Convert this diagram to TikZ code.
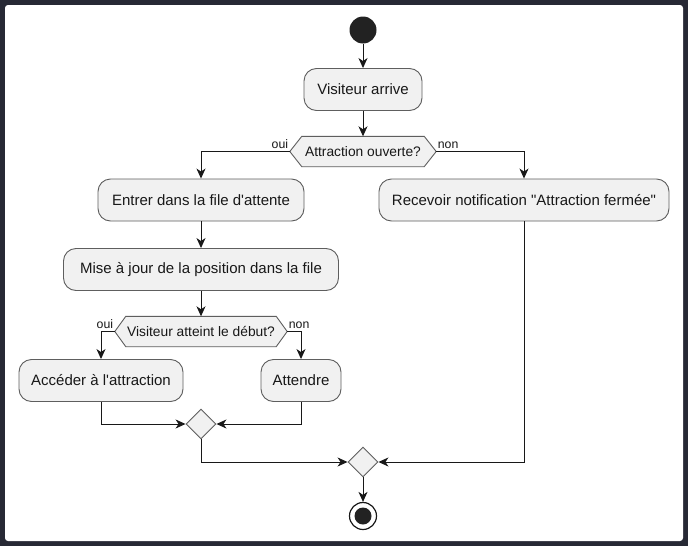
\documentclass[tikz,border=0pt]{standalone}
\usepackage{fontspec}
\setmainfont{Liberation Sans}[Ligatures=TeXOff]
\usetikzlibrary{shapes.geometric,arrows.meta,backgrounds}
\definecolor{frame}{HTML}{272935}
\definecolor{boxfill}{HTML}{F1F1F1}
\definecolor{boxline}{HTML}{5E5E5E}
\definecolor{ink}{HTML}{181818}
\definecolor{dot}{HTML}{222222}
\tikzset{
 act/.style={draw=boxline, fill=boxfill, rounded corners=12.5pt, line width=0.9pt, minimum height=42pt, inner sep=0pt, font=\fontsize{15}{18}\selectfont, text=ink},
 dec/.style={minimum height=30pt, inner sep=0pt, font=\fontsize{13.8}{16}\selectfont, text=ink},
 hexfill/.style={draw=boxline, fill=boxfill, line width=0.9pt},
 merge/.style={diamond, draw=boxline, fill=boxfill, line width=0.9pt, minimum width=30pt, minimum height=30pt, inner sep=0pt},
 flow/.style={draw=ink, line width=1pt, -{Stealth[length=10pt,width=9pt,inset=3pt]}},
 guard/.style={font=\fontsize{12.3}{14}\selectfont, text=ink, inner xsep=1.5pt, inner ysep=3pt},
}
\begin{document}
\begin{tikzpicture}[x=1pt,y=-1pt]
\useasboundingbox (0,0) rectangle (688,546);
\node[circle, fill=dot, minimum size=27pt, inner sep=0pt] (start) at (363,30) {};
\node[act, minimum width=118pt] (visit) at (363,89.5) {Visiteur arrive};
\node[dec, minimum width=146pt] (d1) at (363,151.5) {Attraction ouverte?};
\node[act, minimum width=206pt] (entrer) at (201,200) {Entrer dans la file d'attente};
\node[act, minimum width=290pt] (recv) at (524,200) {Recevoir notification "Attraction fermée"};
\node[act, minimum width=275pt] (mise) at (201,269.5) {Mise à jour de la position dans la file};
\node[dec, minimum width=172pt] (d2) at (201,331.5) {Visiteur atteint le début?};
\node[act, minimum width=164pt] (acc) at (101,380.5) {Accéder à l'attraction};
\node[act, minimum width=80pt] (att) at (301,380.5) {Attendre};
\node[merge] (m1) at (201,424) {};
\node[merge] (m2) at (363,462) {};
\node[circle, draw=ink, line width=1.2pt, minimum size=27pt, inner sep=0pt] (end) at (363,516) {};
\node[circle, fill=dot, minimum size=17pt, inner sep=0pt] (endin) at (end) {};

\node[guard, anchor=south east] (oui1) at (d1.west) {oui};
\node[guard, anchor=south west] (non1) at (d1.east) {non};
\node[guard, anchor=south east] (oui2) at (d2.west) {oui};
\node[guard, anchor=south west] (non2) at (d2.east) {non};

\draw[flow] (start) -- (visit);
\draw[flow] (visit) -- (d1.north);
\draw[flow] (d1.west) -| (entrer.north);
\draw[flow] (d1.east) -| (recv.north);
\draw[flow] (entrer) -- (mise);
\draw[flow] (mise) -- (d2.north);
\draw[flow] (d2.west) -| (acc.north);
\draw[flow] (d2.east) -| (att.north);
\draw[flow] (acc.south) |- (m1.west);
\draw[flow] (att.south) |- (m1.east);
\draw[flow] (m1.south) |- (m2.west);
\draw[flow] (recv.south) |- (m2.east);
\draw[flow] (m2) -- (end);

\begin{scope}[on background layer]
 \fill[frame] (0,0) rectangle (688,546);
 \fill[white, rounded corners=3pt] (5,5) rectangle (683,541);
 \draw[hexfill] (d1.west) -- ([xshift=12pt]d1.north west) -- ([xshift=-12pt]d1.north east) -- (d1.east) -- ([xshift=-12pt]d1.south east) -- ([xshift=12pt]d1.south west) -- cycle;
 \draw[hexfill] (d2.west) -- ([xshift=11pt]d2.north west) -- ([xshift=-11pt]d2.north east) -- (d2.east) -- ([xshift=-11pt]d2.south east) -- ([xshift=11pt]d2.south west) -- cycle;
\end{scope}
\end{tikzpicture}
\end{document}
